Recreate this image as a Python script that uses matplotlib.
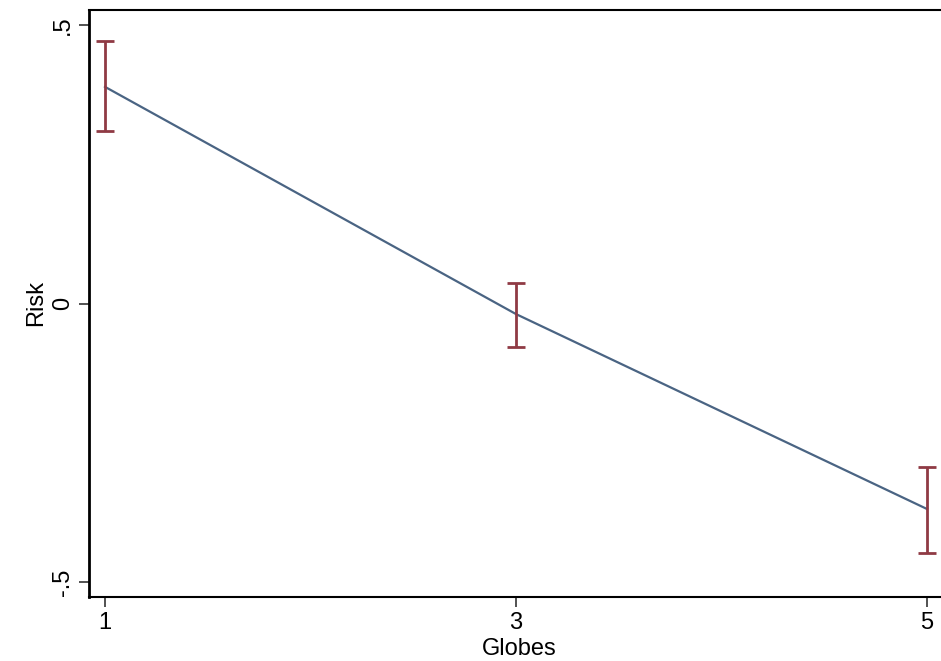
import matplotlib
matplotlib.use("Agg")
import matplotlib.pyplot as plt
import numpy as np

globes = [1, 3, 5]
risk = [0.389, -0.019, -0.369]
ci_low = [0.310, -0.078, -0.448]
ci_high = [0.472, 0.037, -0.294]

plt.rcParams['font.family'] = ['Liberation Sans', 'DejaVu Sans']

fig = plt.figure(figsize=(9.41, 6.61), dpi=100)
ax = fig.add_axes([89/941, 64/661, 860/941, 587/661])

ax.plot(globes, risk, color='#4a6483', lw=1.6, zorder=2)
r = np.array(risk)
yerr = [r - np.array(ci_low), np.array(ci_high) - r]
ax.errorbar(globes, risk, yerr=yerr, fmt='none', ecolor='#8f3a44', elinewidth=2,
            capsize=6.5, capthick=2, zorder=3)

ax.set_xlim(0.922, 5.107)
ax.set_ylim(-0.527, 0.527)
ax.set_xticks([1, 3, 5])
ax.set_xticklabels(['1', '3', '5'])
ax.set_yticks([-0.5, 0, 0.5])
ax.set_yticklabels(['-.5', '0', '.5'], rotation=90, va='center')
ax.tick_params(labelsize=17, length=7, width=1.2, color='#333333', pad=4)
ax.set_xlabel('Globes', fontsize=17, labelpad=3)
ax.set_ylabel('Risk', fontsize=17, labelpad=3)
ax.spines['left'].set_linewidth(2)
ax.spines['bottom'].set_linewidth(1.5)
ax.spines['top'].set_linewidth(1.5)
ax.spines['right'].set_visible(False)

fig.savefig('out.png', dpi=100)
